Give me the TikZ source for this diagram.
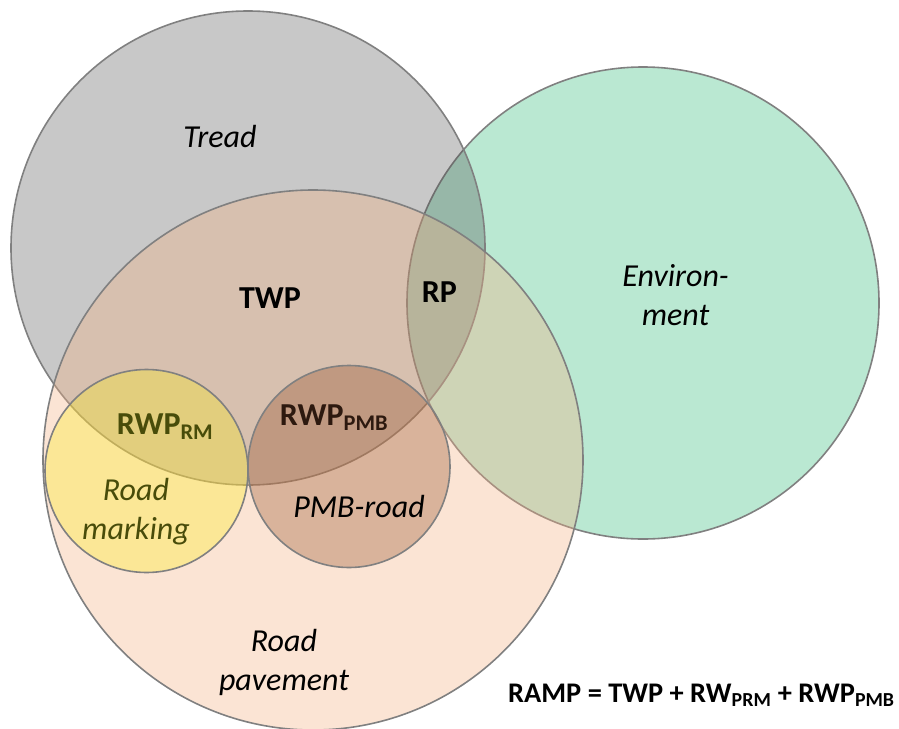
\documentclass[tikz,border=0pt]{standalone}
\usepackage{fontspec}
\setmainfont{Carlito}
\usepackage{tikz}

\definecolor{setline}{RGB}{128,128,128}
\definecolor{envgreen}{RGB}{186,232,210}
\definecolor{treadgray}{RGB}{72,72,72}
\definecolor{pavebrown}{RGB}{244,177,131}
\definecolor{markyellow}{RGB}{250,239,9}
\definecolor{pmbbrown}{RGB}{140,66,23}
\definecolor{olivetext}{RGB}{72,76,10}
\definecolor{pmbtext}{RGB}{45,25,15}

\begin{document}
\begin{tikzpicture}[x=1pt, y=-1pt, every node/.style={inner sep=0pt},
	set/.style={circle, draw=setline, line width=1.6pt, minimum size=#1},
	settxt/.style={font=\fontsize{32}{39}\selectfont\itshape, align=center, anchor=base},
	overlaptxt/.style={font=\fontsize{32}{39}\selectfont\bfseries, anchor=base}]
	\useasboundingbox (0,0) rectangle (899,728);
	
	% sets
	\node[set=472pt, fill=envgreen] (env) at (643,303) {};
	\node[set=474pt, fill=treadgray, fill opacity=0.3] (tread) at (248,248) {};
	\node[set=540pt, fill=pavebrown, fill opacity=0.35] (pave) at (313,460) {};
	\node[set=203pt, fill=markyellow, fill opacity=0.3] (mark) at (146.5,471) {};
	\node[set=202pt, fill=pmbbrown, fill opacity=0.3] (pmb) at (349,466.5) {};
	
	% labels (base = last line)
	\node[settxt] (treadtxt) at (220,147) {Tread};
	\node[settxt] (envtxt) at (675.5,325) {Environ-\\ment};
	\node[settxt, text=olivetext] (marktxt) at (136,539) {Road\\marking};
	\node[settxt] (pmbtxt) at (359,517) {PMB-road};
	\node[settxt] (pavetxt) at (284,690) {Road\\pavement};
	
	\node[overlaptxt] (twp) at (270,308) {TWP};
	\node[overlaptxt] (rp) at (439.5,302) {RP};
	\node[overlaptxt, text=olivetext] (rwprm) at (165,434) {RWP\textsubscript{RM}};
	\node[overlaptxt, text=pmbtext] (rwppmb) at (334,425) {RWP\textsubscript{PMB}};
	
	\node[anchor=base west, font=\fontsize{28.4}{32}\selectfont\bfseries] (ramp) at (508,702) {RAMP = TWP + RW\textsubscript{PRM} + RWP\textsubscript{PMB}};
\end{tikzpicture}
\end{document}
